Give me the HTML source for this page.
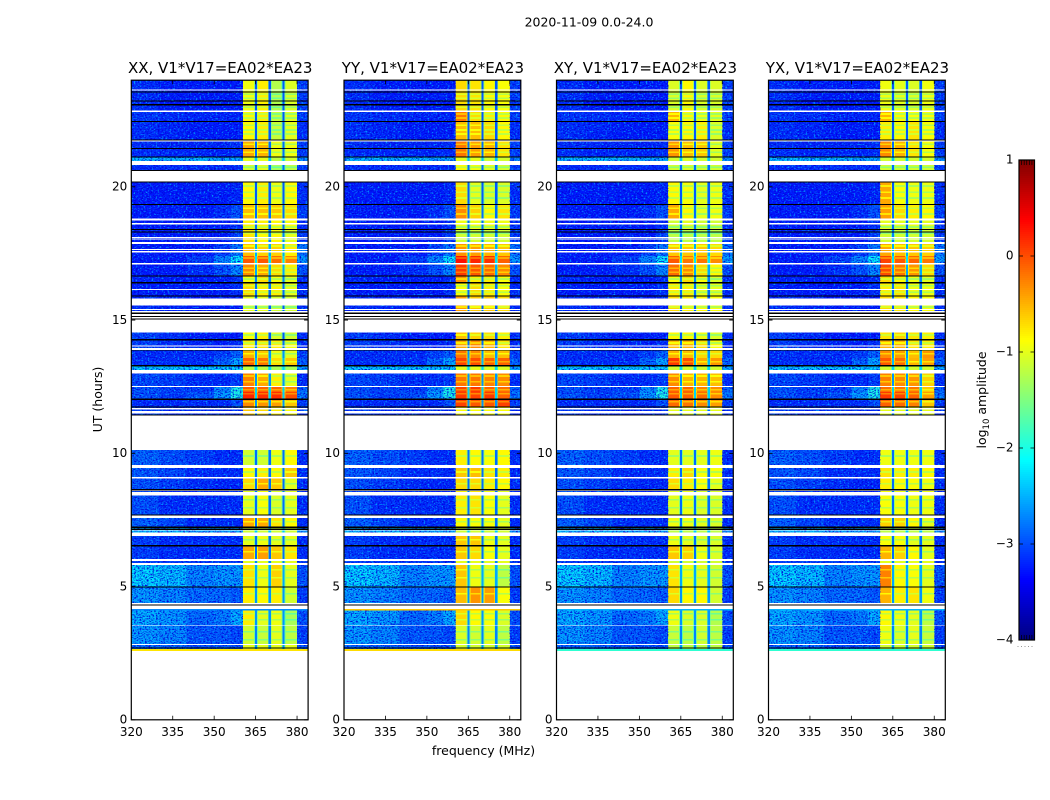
<!DOCTYPE html>
<html lang="en">
<head>
<meta charset="utf-8">
<title>2020-11-09 0.0-24.0</title>
<style>
html,body{margin:0;padding:0;background:#fff;width:1050px;height:800px;overflow:hidden}
svg{display:block}
text{font-family:"DejaVu Sans","Liberation Sans",sans-serif;fill:#000}
</style>
</head>
<body>
<svg id="chart" xmlns="http://www.w3.org/2000/svg" width="1050" height="800" viewBox="0 0 1050 800">
<defs>
<filter id="grain-light" x="0" y="0" width="1" height="1" color-interpolation-filters="sRGB">
<feTurbulence type="fractalNoise" baseFrequency="0.5 0.7" numOctaves="2" seed="4"/>
<feColorMatrix values="0 0 0 0 0  0 0 0 0 0.7  0 0 0 0 1  3.4 0 0 0 -1.85"/>
</filter>
<filter id="grain-dark" x="0" y="0" width="1" height="1" color-interpolation-filters="sRGB">
<feTurbulence type="fractalNoise" baseFrequency="0.55 0.75" numOctaves="2" seed="11"/>
<feColorMatrix values="0 0 0 0 0  0 0 0 0 0  0 0 0 0 0.85  3.4 0 0 0 -1.5"/>
</filter>
</defs>
<text x="589" y="26.5" font-size="12.5" text-anchor="middle">2020-11-09 0.0-24.0</text>
<text x="483.5" y="755" font-size="12.5" text-anchor="middle">frequency (MHz)</text>
<text transform="translate(102,399.5) rotate(-90)" font-size="12.5" text-anchor="middle">UT (hours)</text>
<text transform="translate(986,400) rotate(-90)" font-size="12.5" text-anchor="middle">log<tspan font-size="8.5" dy="3">10</tspan><tspan dy="-3"> amplitude</tspan></text>
<g id="panels"></g>
<g id="colorbar"></g>
</svg>
<script>
const panelTitles = ['XX, V1*V17=EA02*EA23', 'YY, V1*V17=EA02*EA23', 'XY, V1*V17=EA02*EA23', 'YX, V1*V17=EA02*EA23'];
const freqTicks = [320, 335, 350, 365, 380];
const hourTicks = [0, 5, 10, 15, 20];
const colorTicks = [1, 0, -1, -2, -3, -4];

// Frequency edges (MHz) of the coarse spectral columns
const backgroundEdges = [320, 330, 340, 350, 356, 360.4];
const windowEdges = [[360.4, 364.7], [365.5, 369.7], [370.5, 374.7], [375.5, 380]];
const gapEdges = [[364.7, 365.5], [369.7, 370.5], [374.7, 375.5]];
const rightEdge = [380, 384];

// UT span (hours) of every observed block, top to bottom
const rowHours = [
[24,22.86],[22.86,22.44],[22.44,21.78],[21.78,21.11],[21.11,20.97],[20.81,20.61],[20.19,19.35],[19.35,18.81],
[18.73,18.41],[18.41,17.93],[17.93,17.4],[17.4,17.14],[17.14,16.68],[16.68,16.4],[16.4,15.9],[15.9,15.3],
[14.55,14.26],[14.26,13.85],[13.85,13.58],[13.58,13.28],[13.28,13.13],[13,12.49],[12.49,12.3],[12.3,12.04],
[12.04,11.74],[11.74,11.42],[10.13,9.57],[9.45,9.12],[9.05,8.66],[8.59,7.66],[7.58,7.24],[7.24,7.02],
[6.9,6.53],[6.53,6.04],[6.04,5.81],[5.81,5],[5,4.32],[4.16,3.53],[3.53,2.8],[2.8,2.66]
];

// log10 amplitude outside the windows: five left columns, right column, gap between windows
const backgroundLevels = [
[-3.15,-3.25,-3.25,-3.25,-3.25,-3.05,-2.95],[-3.1,-3.15,-3.2,-3.2,-3.2,-3.05,-2.95],[-3.15,-3.2,-3.25,-3.25,-3.25,-3.15,-2.95],[-3.15,-3.2,-3.2,-3.2,-3.15,-3.05,-2.85],
[-2.4,-2.4,-2.4,-2.5,-2.5,-2.6,-2.4],[-3.15,-3.15,-3.15,-3.15,-3.15,-3.05,-2.85],[-3.25,-3.25,-3.25,-3.25,-3.2,-3.15,-2.95],[-3.25,-3.25,-3.25,-3.15,-2.95,-3.05,-2.85],
[-3.25,-3.25,-3.25,-3.25,-3.15,-3.15,-2.85],[-3.25,-3.25,-3.25,-3.25,-3.05,-3.05,-2.75],[-3.25,-3.25,-3.25,-3.05,-2.75,-2.75,-2.55],[-3.25,-3.25,-3.05,-2.65,-2.1,-2.55,-2.25],
[-3.25,-3.25,-3.15,-2.95,-2.65,-2.95,-2.55],[-3.2,-3.25,-3.25,-3.25,-3.15,-3.15,-2.75],[-3.25,-3.25,-3.25,-3.25,-3.15,-3.15,-2.85],[-3.15,-3.2,-3.25,-3.25,-3.25,-3.15,-2.95],
[-3.05,-3.15,-3.25,-3.25,-3.25,-3.15,-2.95],[-3.05,-3.15,-3.2,-3.25,-3.15,-3.15,-2.85],[-3.15,-3.15,-3.15,-3.05,-2.85,-3.05,-2.65],[-3.15,-3.15,-3.15,-2.85,-2.5,-2.85,-2.45],
[-2.3,-2.3,-2.3,-2.3,-2.3,-2.5,-2.3],[-3,-3.05,-3.15,-3.15,-3.05,-3.15,-2.65],[-2.95,-3.05,-3.05,-2.65,-2,-2.85,-2.35],[-2.95,-3.05,-2.95,-2.55,-2,-2.75,-2.35],
[-3.15,-3.15,-3.15,-3.15,-2.95,-3.05,-2.65],[-3.05,-3.15,-3.15,-3.15,-3.15,-3.15,-2.85],[-2.85,-2.95,-3.05,-3.15,-3.15,-3.15,-2.85],[-2.9,-3,-3.15,-3.15,-3.15,-3.15,-2.85],
[-2.95,-3.05,-3.15,-3.2,-3.2,-3.15,-2.85],[-2.95,-3.15,-3.15,-3.15,-3.15,-3.15,-2.85],[-2.85,-3,-3.15,-3.15,-3.15,-3.15,-2.85],[-2.4,-2.4,-2.5,-2.5,-2.5,-2.6,-2.4],
[-3.05,-3.15,-3.15,-3.15,-3.15,-3.15,-2.85],[-3.05,-3.15,-3.15,-3.15,-3.15,-3.15,-2.85],[-3.05,-3.05,-3.05,-3.05,-3.05,-3.05,-2.75],[-2.25,-2.35,-2.65,-2.55,-2.55,-2.95,-2.55],
[-2.55,-2.65,-2.8,-2.8,-2.9,-3.05,-2.65],[-2.45,-2.55,-2.8,-2.7,-2.45,-2.95,-2.65],[-2.55,-2.65,-2.9,-2.9,-3,-3.05,-2.75],[-2.85,-2.85,-2.95,-2.95,-2.95,-2.95,-2.65]
];

// log10 amplitude of the four bright frequency windows, one line per block
const windowLevelsXX = [
[-.95,-.8,-1.25,-1.05],[-.85,-.8,-1.15,-1],[-.85,-.8,-1.15,-1],[-.45,-.5,-.95,-.95],[-1,-1,-1.2,-1.1],[-1.1,-1,-1.3,-1.2],[-.85,-.8,-.95,-.85],[-.55,-.55,-.6,-.7],
[-.8,-.8,-.85,-.9],[-.75,-.85,-.85,-1],[-.55,-.65,-.65,-.8],[-.05,-.05,-.15,-.25],[-.3,-.45,-.7,-.8],[-.9,-.7,-.9,-1],[-.7,-.8,-.8,-1],[-1,-1,-1.1,-1.1],
[-.9,-.8,-1.05,-1.1],[-.8,-.75,-.8,-.95],[-.5,-.6,-.95,-1],[-.1,-.2,-.7,-.6],[-1.2,-1.2,-1.3,-1.3],[-.25,-.45,-.8,-1],[-.05,-.1,-.1,-.25],[.2,.15,.15,0],
[-.3,-.35,-.4,-.6],[-.6,-.7,-.8,-.9],[-1.1,-1.1,-.95,-.85],[-.85,-.8,-.85,-.6],[-.7,-.45,-.6,-1],[-1,-.9,-1.05,-1],[-.45,-.45,-.75,-.85],[-1.1,-1.1,-1.1,-1.1],
[-1,-.95,-1,-1],[-.45,-.4,-.6,-.75],[-1,-1,-1,-1],[-.75,-.95,-.65,-1],[-.8,-.85,-.8,-1.1],[-.8,-1,-.95,-1.3],[-1.1,-1.15,-1,-1.2],[-1,-1,-1,-1]
];
const windowLevelsYY = [
[-.7,-.75,-.85,-.9],[-.2,-.7,-.8,-.85],[-.55,-.55,-.7,-.85],[-.2,-.4,-.5,-.75],[-1,-1,-1.1,-1.1],[-.85,-.95,-1,-1.1],[-.7,-1,-1.05,-1.05],[-.3,-.65,-.85,-.75],
[-.95,-.95,-.95,-.95],[-1.1,-1.1,-1.1,-1.1],[-.35,-.4,-.5,-.6],[.3,.2,.15,-.1],[.1,-.05,-.15,-.3],[-.35,-.8,-.8,-.9],[-.9,-.7,-.8,-.9],[-.4,-.6,-.6,-.7],
[-.55,-.65,-.7,-.8],[-.45,-.3,-.5,-.75],[-.2,-.3,-.55,-.55],[.05,0,-.1,-.1],[-1,-1,-1.05,-1.05],[-.2,-.2,-.25,-.3],[.05,.1,-.1,-.15],[.1,.05,.1,-.1],
[.05,-.05,-.05,.05],[-.9,-.9,-.9,-.9],[-.8,-.85,-.9,-.85],[-.6,-.55,-.75,-.8],[-.7,-.7,-.8,-.85],[-.8,-.75,-.9,-1],[-.85,-.9,-.9,-1],[-1.1,-1.1,-1.1,-1.1],
[-.6,-.6,-.95,-1],[-.6,-.7,-.9,-1],[-1,-1,-1,-1],[-.6,-.95,-1,-1.2],[-.55,-.35,-.4,-.9],[-.7,-.85,-.9,-1.05],[-1.05,-1.1,-1,-1.2],[-1.1,-1.1,-1.1,-1.1]
];
const windowLevelsXY = [
[-1.05,-.85,-1.05,-1.05],[-.5,-.85,-.95,-1],[-.9,-.85,-.8,-1.05],[-.35,-.55,-.6,-1],[-1.1,-1.05,-1.1,-1.1],[-1.1,-1.05,-1.1,-1.1],[-.85,-.9,-1,-.95],[-.45,-.85,-1,-.95],
[-1.1,-1,-1.1,-1.1],[-1.2,-1.2,-1.2,-1.2],[-.6,-.6,-.6,-.7],[-.05,-.2,-.2,-.3],[-.15,-.3,-.7,-.85],[-.9,-.7,-.9,-1.05],[-.8,-.8,-1,-1],[-.7,-.8,-.85,-.9],
[-.85,-.85,-.95,-1.05],[-.55,-.5,-.7,-.9],[-.5,-.55,-.7,-.7],[.1,0,-.45,-.35],[-1.1,-1.1,-1.1,-1.1],[-.3,-.5,-.5,-.55],[-.1,-.1,-.25,-.3],[-.05,-.1,-.15,-.3],
[-.15,-.2,-.3,-.4],[-1,-1,-1,-1],[-1,-1,-1,-.95],[-.8,-.7,-.9,-.9],[-.7,-.8,-.9,-1],[-1,-.95,-1.05,-1.05],[-.95,-.95,-1,-1.05],[-1.2,-1.2,-1.2,-1.2],
[-.95,-1,-1.05,-1.05],[-.6,-.65,-.95,-1.05],[-1.1,-1.1,-1.1,-1.1],[-.75,-.95,-1,-1.1],[-.7,-.85,-.85,-1.1],[-.95,-1.05,-1.05,-1.25],[-1.15,-1.2,-1.1,-1.2],[-1.2,-1.2,-1.2,-1.2]
];
const windowLevelsYX = [
[-.95,-1,-1.05,-.95],[-.5,-.85,-.9,-.9],[-.8,-.85,-.75,-.9],[-.3,-.5,-.75,-.9],[-1.1,-1.1,-1.1,-1.1],[-1.1,-1.1,-1.1,-1.1],[-.45,-.9,-.95,-.95],[-.4,-.7,-.8,-.85],
[-1,-1,-1,-1],[-1.1,-1.1,-1.1,-1.1],[-.45,-.55,-.6,-.65],[.05,-.05,-.1,-.2],[0,-.2,-.35,-.7],[-.7,-.85,-.95,-1],[-.8,-.75,-.95,-.95],[-.7,-.75,-.85,-.9],
[-.75,-.65,-.75,-.8],[-.5,-.5,-.75,-.8],[-.3,-.4,-.55,-.35],[-.05,-.15,-.5,-.4],[-1.1,-1.1,-1.1,-1.1],[-.25,-.3,-.35,-.65],[-.15,-.2,-.2,-.6],[.1,.05,-.1,-.4],
[-.1,-.15,-.25,-.6],[-1,-1,-1,-1],[-.95,-.95,-.95,-.95],[-.75,-.8,-.8,-.85],[-.8,-.85,-.9,-.95],[-.9,-.9,-.95,-.95],[-.65,-.65,-.85,-1],[-1.2,-1.2,-1.2,-1.2],
[-.9,-.9,-1,-1],[-.5,-.65,-.85,-1],[-1,-1,-1,-1],[-.25,-.85,-.9,-1],[-.5,-.8,-.75,-.95],[-.85,-.95,-1,-1.2],[-.95,-1.05,-1,-1.15],[-1.1,-1.1,-1.1,-1.1]
];
const windowLevels = [windowLevelsXX, windowLevelsYY, windowLevelsXY, windowLevelsYX];

// Thin dimmer rows inside the windows (hour of row centre) and the drop in log10 amplitude there
const dimRowHours = [23.48,23.33,22.99,22.73,22.58,22.31,22.13,21.98,21.6,21.3,20.74,20.03,19.8,19.58,19.2,18.98,18.49,18.26,17.78,17.33,16.95,16.8,16.54,16.28,16.05,15.49,14.44,14.14,13.73,13.43,12.9,12.68,12.38,12.23,11.93,11.55,9.9,9.3,8.85,8.25,7.95,7.43,6.75,6.3,5.63,5.33,4.73,3.98,3.75,3.3,3];
const dimRowDrop = [0.35];
// Drop in log10 amplitude at the window edges next to a gap
const windowEdgeDrop = [0.5];

// Full-width narrow rows that differ by polarisation: hours, then level for XX, YY, XY, YX
const stripHours = [[2.66, 2.59], [4.16, 4.11]];
const stripLevels = [[-.75, -.7, -1.9, -1.9], [-2.7, -.6, -2.5, -2.5]];

// Times without data (white) and flagged lines (black), hours
const emptyHours = [
[23.66,23.61],[22.86,22.81],[21.74,21.7],[20.97,20.81],[20.61,20.19],[18.81,18.73],[18.64,18.58],[18.11,18.08],
[18.06,18.03],[17.93,17.85],[17.66,17.63],[17.59,17.53],[17.14,17.09],[16.16,16.13],[15.81,15.54],[15.41,15.38],
[15.34,14.53],[14.04,14.01],[13.95,13.88],[13.13,13],[12.53,12.48],[11.7,11.67],[11.64,11.63],[11.59,11.49],
[11.42,10.13],[9.57,9.45],[9.12,9.05],[8.63,8.59],[8.54,8.41],[7.66,7.58],[7.14,7.11],[7.02,6.9],
[6.04,5.96],[5.89,5.81],[4.38,4.16],[3.56,3.53],[2.84,2.8],[2.59,0]
];
const flaggedHours = [
[23.58,23.54],[23.24,23.2],[23.1,23.06],[22.47,22.44],[21.78,21.74],[21.45,21.41],[21.14,21.1],[20.63,20.6],
[20.2,20.16],[19.36,19.32],[18.41,18.37],[18.33,18.28],[16.68,16.63],[16.43,16.38],[15.93,15.88],[15.28,15.22],
[15.15,15.11],[15.06,15.03],[14.28,14.24],[13.86,13.83],[13.31,13.25],[12.05,12],[11.75,11.71],[11.45,11.41],
[8.66,8.61],[7.71,7.67],[7.25,7.2],[7.18,7.13],[6.55,6.51],[5.01,4.97],[4.32,4.28],[2.72,2.67]
];

const SVGNS = 'http://www.w3.org/2000/svg';
const panelLeft = [131.3, 344, 556.5, 768.5];
const panelWidth = 176.8;
const plotTop = 80.2, plotBottom = 719.8;
const hourMax = 24, freqMin = 320, freqMax = 384;
const levelMin = -4, levelMax = 1;
const barLeft = 1019, barRight = 1034.5, barTop = 160, barBottom = 640;

function xScale(panel, freq) { return panelLeft[panel] + (freq - freqMin) / (freqMax - freqMin) * panelWidth; }
function yScale(hour) { return plotBottom - hour / hourMax * (plotBottom - plotTop); }
function barScale(level) { return barBottom - (level - levelMin) / (levelMax - levelMin) * (barBottom - barTop); }
function clip01(v) { return Math.max(0, Math.min(1, v)); }
function jet(level) {
  const t = clip01((level - levelMin) / (levelMax - levelMin));
  const r = clip01(Math.min(4 * t - 1.5, -4 * t + 4.5));
  const g = clip01(Math.min(4 * t - 0.5, -4 * t + 3.5));
  const b = clip01(Math.min(4 * t + 0.5, -4 * t + 2.5));
  return 'rgb(' + Math.round(r * 255) + ',' + Math.round(g * 255) + ',' + Math.round(b * 255) + ')';
}
function node(tag, attrs, parent) {
  const el = document.createElementNS(SVGNS, tag);
  Object.keys(attrs).forEach(function (k) { el.setAttribute(k, attrs[k]); });
  parent.appendChild(el);
  return el;
}
function cell(parent, panel, f0, f1, h0, h1, fill) {
  const el = node('rect', {
    x: xScale(panel, f0), width: xScale(panel, f1) - xScale(panel, f0),
    y: yScale(h0), height: yScale(h1) - yScale(h0),
    fill: fill, 'shape-rendering': 'crispEdges'
  }, parent);
  return el;
}

const panelsGroup = document.getElementById('panels');
panelTitles.forEach(function (title, p) {
  const g = node('g', {}, panelsGroup);
  
  

  const heat = node('g', {}, g);
  
  

  rowHours.forEach(function (span, r) {
    const bg = backgroundLevels[r];
    const win = windowLevels[p][r];
    for (let c = 0; c < backgroundEdges.length - 1; c++) {
      const el = cell(heat, p, backgroundEdges[c], backgroundEdges[c + 1], span[0], span[1], jet(bg[c]));
      
      
    }
    windowEdges.forEach(function (edge, w) {
      const el = cell(heat, p, edge[0], edge[1], span[0], span[1], jet(win[w]));
      
      
      if (w > 0) {
        const fl = cell(heat, p, edge[0], edge[0] + 0.3, span[0], span[1], jet(win[w] - windowEdgeDrop[0]));
        
        
      }
      if (w < windowEdges.length - 1) {
        const fr = cell(heat, p, edge[1] - 0.3, edge[1], span[0], span[1], jet(win[w] - windowEdgeDrop[0]));
        
        
      }
    });
    gapEdges.forEach(function (edge) {
      const el = cell(heat, p, edge[0], edge[1], span[0], span[1], jet(bg[6]));
      
      
    });
    const right = cell(heat, p, rightEdge[0], rightEdge[1], span[0], span[1], jet(bg[5]));
    
    
  });

  dimRowHours.forEach(function (hour) {
    const r = rowHours.findIndex(function (span) { return hour <= span[0] && hour >= span[1]; });
    if (r < 0) return;
    windowEdges.forEach(function (edge, w) {
      const el = cell(heat, p, edge[0], edge[1], hour + 0.03, hour - 0.03, jet(windowLevels[p][r][w] - dimRowDrop[0]));
      
      
    });
  });

  [[freqMin, windowEdges[0][0]], rightEdge].forEach(function (range) {
    ['grain-dark', 'grain-light'].forEach(function (id) {
      const grain = node('rect', {
        x: xScale(p, range[0]), width: xScale(p, range[1]) - xScale(p, range[0]),
        y: plotTop, height: plotBottom - plotTop, filter: 'url(#' + id + ')'
      }, heat);
      
      
    });
  });

  emptyHours.forEach(function (span) {
    const el = cell(heat, p, freqMin, freqMax, span[0], span[1], '#fff');
    
    
  });
  stripHours.forEach(function (span, s) {
    const el = cell(heat, p, freqMin, freqMax, span[0], span[1], jet(stripLevels[s][p]));
    
    
  });
  flaggedHours.forEach(function (span) {
    const el = cell(heat, p, freqMin, freqMax, span[0], span[1], '#000');
    
    
  });

  const x0 = panelLeft[p], x1 = x0 + panelWidth;
  const frame = node('rect', { x: x0, y: plotTop, width: panelWidth, height: plotBottom - plotTop, fill: 'none', stroke: '#000', 'stroke-width': 1.2 }, g);
  
  

  const t = node('text', { x: x0 + panelWidth / 2 + 0.5, y: 73, 'font-size': 15, 'text-anchor': 'middle' }, g);
  t.textContent = title;
  
  

  freqTicks.forEach(function (f) {
    const x = xScale(p, f);
    const tick = node('path', { d: 'M' + x + ' ' + plotBottom + 'v-4M' + x + ' ' + plotTop + 'v4', stroke: '#000', 'stroke-width': 0.8, fill: 'none' }, g);
    
    
    const lab = node('text', { x: x, y: 736, 'font-size': 12, 'text-anchor': 'middle' }, g);
    lab.textContent = String(f);
    
    
  });
  hourTicks.forEach(function (h) {
    const y = yScale(h);
    const tick = node('path', { d: 'M' + x0 + ' ' + y + 'h4M' + x1 + ' ' + y + 'h-4', stroke: '#000', 'stroke-width': 0.8, fill: 'none' }, g);
    
    
    const lab = node('text', { x: x0 - 4, y: y + 3.8, 'font-size': 12, 'text-anchor': 'end' }, g);
    lab.textContent = String(h);
    
    
  });
});

const bar = document.getElementById('colorbar');
for (let i = 0; i < 240; i++) {
  const v0 = levelMin + (levelMax - levelMin) * i / 240;
  const v1 = levelMin + (levelMax - levelMin) * (i + 1) / 240;
  const seg = node('rect', { x: barLeft, width: barRight - barLeft, y: barScale(v1), height: barScale(v0) - barScale(v1), fill: jet((v0 + v1) / 2), 'shape-rendering': 'crispEdges' }, bar);
  
  
}
const barFrame = node('rect', { x: barLeft, y: barTop, width: barRight - barLeft, height: barBottom - barTop, fill: 'none', stroke: '#000', 'stroke-width': 1.2 }, bar);


colorTicks.forEach(function (v) {
  const y = barScale(v);
  const tick = node('path', { d: 'M' + barLeft + ' ' + y + 'h4M' + barRight + ' ' + y + 'h-4', stroke: '#000', 'stroke-width': 0.8, fill: 'none' }, bar);
  
  
  const lab = node('text', { x: barLeft - 5.5, y: y + 3.5, 'font-size': 12, 'text-anchor': 'end' }, bar);
  lab.textContent = v < 0 ? '\u2212' + Math.abs(v) : String(v);
  
  
});
for (let k = 1; k < 6; k++) {
  const xk = barLeft + (barRight - barLeft) * k / 6;
  const minor = node('path', { d: 'M' + xk + ' ' + barTop + 'v5M' + xk + ' ' + barBottom + 'v-5', stroke: '#000', 'stroke-width': 0.7, fill: 'none' }, bar);
  
  
}
const dots = node('path', { d: 'M1017.5 646.5H1035', stroke: '#999', 'stroke-width': 1, 'stroke-dasharray': '1 2.5', fill: 'none' }, bar);


</script>
</body>
</html>
